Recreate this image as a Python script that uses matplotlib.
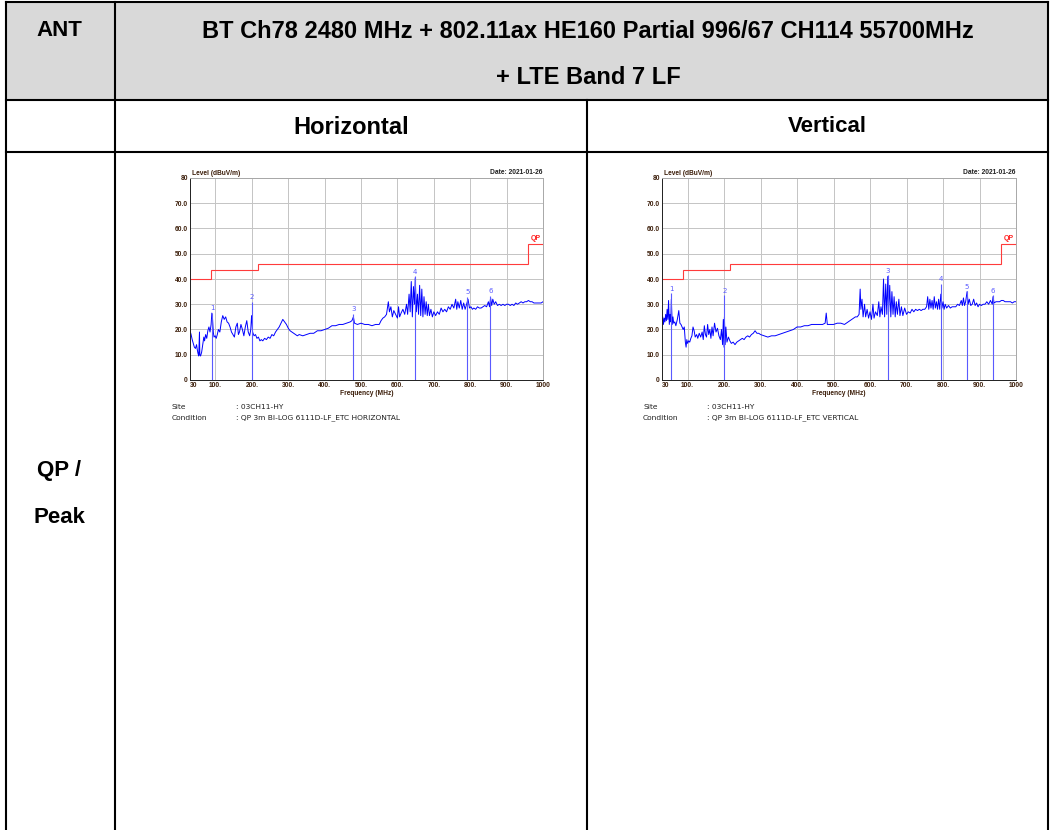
import matplotlib.pyplot as plt
from matplotlib.patches import Rectangle

# Radiated emission scans, 30 MHz - 1 GHz, level in dBuV/m
h_freq = [30, 33, 36, 39, 42, 45, 48, 50, 52, 54,
          56, 57, 59, 62, 65, 68, 70, 73, 76, 79,
          82, 85, 88, 90, 92, 94, 96, 99, 102, 105,
          108, 112, 116, 120, 124, 128, 132, 136, 140, 144,
          148, 152, 156, 160, 163, 166, 170, 174, 178, 182,
          186, 190, 194, 197, 199, 200, 202, 206, 210, 214,
          218, 222, 226, 230, 235, 240, 245, 250, 255, 260,
          265, 270, 275, 280, 285, 290, 295, 300, 305, 310,
          315, 320, 325, 330, 340, 350, 360, 370, 380, 390,
          400, 410, 420, 430, 440, 450, 460, 470, 475, 479,
          482, 490, 500, 510, 520, 530, 540, 550, 555, 560,
          565, 570, 575, 578, 582, 586, 590, 595, 600, 603,
          606, 610, 615, 620, 625, 628, 632, 635, 638, 641,
          644, 647, 649, 652, 655, 658, 661, 664, 667, 670,
          673, 676, 679, 682, 685, 688, 692, 696, 700, 705,
          710, 715, 720, 725, 730, 735, 740, 745, 750, 755,
          760, 763, 766, 770, 774, 778, 782, 786, 790, 794,
          798, 802, 806, 810, 815, 820, 825, 830, 835, 840,
          845, 850, 853, 856, 859, 862, 866, 870, 875, 880,
          885, 890, 895, 900, 905, 910, 915, 920, 925, 930,
          935, 940, 945, 950, 955, 960, 965, 970, 975, 980,
          985, 990, 995, 1000]
h_level = [19.5, 18, 16, 14.5, 13, 12.5, 14, 12, 10.5, 9.5,
           19, 10, 9.5, 11, 14, 17, 15.5, 18, 16.5, 19.5,
           21, 19, 22, 26.5, 24, 19, 17, 17.5, 16.5, 18,
           20, 19, 23, 25.5, 24, 25, 23, 22.5, 21, 19,
           18, 17, 21, 22.5, 18, 19, 22, 20, 17.5, 21,
           23.5, 19, 17.5, 20, 25, 25.5, 19, 17.5, 18, 16.5,
           17, 15.5, 16, 15.5, 16.5, 16, 17, 16.5, 18, 17.5,
           19, 20, 21, 22.5, 24, 23, 22, 20.5, 19.5, 19,
           18.5, 18, 17.5, 18, 17.5, 18, 18.5, 18.5, 19.5, 19.5,
           20, 20.5, 21.5, 21.5, 22, 22, 22.5, 23, 23.5, 25,
           22.5, 22, 22.5, 22, 22, 21.5, 22, 22, 23.5, 24.5,
           25, 26, 31, 27, 29, 25, 27.5, 26, 24.5, 29,
           25, 26.5, 28, 26, 30, 26, 34, 27, 39, 25,
           37, 30, 40.5, 27, 34, 26, 37.5, 25.5, 36, 25,
           33, 26, 31, 25.5, 30, 25.5, 28, 25, 27, 25.5,
           27, 26, 28.5, 27, 28, 27, 29, 28, 30, 28.5,
           32, 28, 31, 28.5, 31.5, 28, 30.5, 28, 30, 32,
           28.5, 29, 28, 28.5, 28, 29, 28.5, 28.5, 29, 29.5,
           29, 31, 29, 32.5, 29.5, 32, 30, 31, 29.5, 30,
           29.5, 30, 29.5, 30, 30, 29.5, 30, 29.5, 30.5, 30,
           30.5, 31, 30.5, 31, 31, 31.5, 31, 31, 30.5, 30.5,
           30.5, 30.5, 30.5, 31]
h_mk_freq = [91, 200, 479, 648.6, 792, 855.5]
h_mk_level = [26.6, 31.0, 26.3, 41.1, 32.9, 33.3]

v_freq = [30, 32, 34, 36, 38, 40, 42, 44, 46, 48,
          50, 52, 54, 55.6, 58, 60, 62, 65, 68, 72,
          76, 79, 82, 85, 88, 91, 94, 96, 98, 100,
          103, 106, 109, 112, 115, 118, 121, 125, 128, 132,
          136, 140, 143, 146, 149, 152, 155, 158, 161, 164,
          167, 170, 174, 178, 182, 186, 190, 193, 196, 198,
          200, 201, 203, 205, 208, 212, 216, 220, 225, 230,
          235, 240, 245, 250, 255, 260, 265, 270, 275, 280,
          285, 290, 295, 300, 310, 320, 330, 340, 350, 360,
          370, 380, 390, 400, 410, 420, 430, 440, 450, 460,
          470, 477, 480, 483, 490, 500, 510, 520, 530, 540,
          550, 555, 560, 565, 570, 573, 575, 578, 581, 585,
          588, 592, 596, 600, 604, 608, 611, 615, 620, 624,
          627, 630, 634, 637, 640, 643, 646, 648.6, 651, 654,
          657, 660, 663, 666, 669, 672, 675, 679, 682, 686,
          690, 695, 700, 705, 710, 715, 720, 725, 730, 735,
          740, 745, 750, 755, 758, 761, 764, 767, 770, 773,
          776, 779, 782, 785, 788, 791, 794, 797, 800, 803,
          806, 810, 815, 820, 825, 830, 835, 840, 845, 850,
          853, 856, 859, 862, 866, 869, 872, 876, 880, 884,
          888, 892, 896, 900, 905, 910, 915, 920, 925, 930,
          935, 937, 940, 945, 950, 955, 960, 965, 970, 975,
          980, 985, 990, 995, 1000]
v_level = [23.5, 25, 22, 24.5, 23, 26, 23.5, 28, 24, 31.5,
           22, 26, 23, 32, 22, 25, 22.5, 23, 21.5, 24,
           27.5, 22.5, 22, 21, 20, 21, 15, 13, 16, 14.5,
           15.5, 15, 16.5, 17.5, 21, 19.5, 17, 18, 16.5, 18.5,
           17, 19, 16, 21.5, 18, 17, 22, 18, 20, 16.5,
           21, 17.5, 22.5, 19, 20.5, 17.5, 16, 20, 14, 24,
           13, 25, 14, 21, 15, 17, 15.5, 14.5, 15, 14,
           15, 15.5, 16, 16.5, 16, 17, 17.5, 17, 18, 18.5,
           19.5, 18.5, 18.5, 18, 17.5, 17, 17.5, 17.5, 18, 18.5,
           19, 19.5, 20, 21, 21, 21.5, 21.5, 22, 22, 22,
           22, 22.5, 26.5, 22, 22, 22, 22.5, 22.5, 22, 23,
           24, 24.5, 25, 25, 26, 36, 28, 32, 25, 30,
           25, 28, 24.5, 27, 24, 30, 24.5, 27, 25.5, 31,
           25, 29, 26, 40, 25, 38, 26, 41, 27, 37.5,
           25, 35, 26, 33, 25, 31, 26, 32, 25.5, 29,
           25.5, 28.5, 26, 27, 26.5, 28, 27, 28, 27.5, 28,
           27.5, 28, 28, 29, 33, 28, 32, 28.5, 31.5, 28,
           33, 28.5, 31, 28, 32, 28, 34, 28.5, 31, 28,
           30, 28.5, 29.5, 28.5, 29, 29, 29, 30, 29.5, 31.5,
           29.5, 32.5, 29.5, 31, 35, 30, 32, 29.5, 30, 32,
           29.5, 30.5, 29, 30, 29.5, 30, 30, 31, 30, 31.5,
           30, 33, 30.5, 31, 31, 31, 31.5, 31.5, 31, 31,
           31, 31, 30.5, 31, 31]
v_mk_freq = [55.6, 201, 648.6, 794, 865.5, 936.8]
v_mk_level = [34.3, 33.6, 41.5, 38.2, 35.2, 33.6]

# QP limit (FCC class B, 3 m)
limit_edges = [30, 88, 216, 960, 1000]
limit_vals = [40, 43.5, 46, 54]

x_ticks = [30, 100, 200, 300, 400, 500, 600, 700, 800, 900, 1000]
x_labels = ["30", "100.", "200.", "300.", "400.", "500.", "600.", "700.", "800.", "900.", "1000"]
y_ticks = [0, 10, 20, 30, 40, 50, 60, 70, 80]
y_labels = ["0", "10.0", "20.0", "30.0", "40.0", "50.0", "60.0", "70.0", "80"]

title1 = "BT Ch78 2480 MHz + 802.11ax HE160 Partial 996/67 CH114 55700MHz"
title2 = "+ LTE Band 7 LF"

BROWN = "#3c1e0a"
W, H = 1051, 830


def draw_scan(ax, freq, level, mk_freq, mk_level):
    ax.set_xlim(30, 1000)
    ax.set_ylim(0, 80)
    ax.grid(True, color="#c4c4c4", lw=0.7)
    ax.set_axisbelow(True)
    ax.stairs(limit_vals, limit_edges, baseline=None, color="#ff3b3b", lw=0.8)
    ax.text(980, 54.6, "QP", color="#ff2020", fontsize=5, fontweight="bold",
            ha="center", va="bottom", family="Liberation Sans")
    ax.plot(freq, level, color="#0000ff", lw=0.7)
    for i in range(len(mk_freq)):
        ax.vlines(mk_freq[i], 0, mk_level[i], color="#5a5aff", lw=0.8)
        ax.text(mk_freq[i], mk_level[i] + 0.6, str(i + 1), color="#5a5aff",
                fontsize=5, ha="center", va="bottom")
    ax.set_xticks(x_ticks)
    ax.set_xticklabels(x_labels)
    ax.set_yticks(y_ticks)
    ax.set_yticklabels(y_labels)
    ax.tick_params(length=0, pad=1.5, labelsize=4.8, labelcolor=BROWN)
    for lab in ax.get_xticklabels() + ax.get_yticklabels():
        lab.set_fontweight("bold")
        lab.set_family("Liberation Sans")
    ax.get_xticklabels()[0].set_ha("left")
    ax.set_xlabel("Frequency (MHz)", fontsize=4.8, fontweight="bold", color=BROWN,
                  labelpad=0.5, family="Liberation Sans")
    ax.text(0.005, 1.005, "Level (dBuV/m)", transform=ax.transAxes, fontsize=4.8,
            fontweight="bold", color=BROWN, ha="left", va="bottom", family="Liberation Sans")
    ax.text(1.0, 1.01, "Date: 2021-01-26", transform=ax.transAxes, fontsize=4.8,
            fontweight="bold", color="#202020", ha="right", va="bottom", family="Liberation Sans")
    ax.spines["left"].set_color("#202020")
    ax.spines["bottom"].set_color("#202020")
    ax.spines["top"].set_color("#a8a8a8")
    ax.spines["right"].set_color("#a8a8a8")
    for s in ax.spines.values():
        s.set_linewidth(0.7)


fig = plt.figure(figsize=(W / 100, H / 100), dpi=100)

# table background in pixel coordinates
bg = fig.add_axes([0, 0, 1, 1])
bg.set_xlim(0, W)
bg.set_ylim(H, 0)
bg.axis("off")
bg.add_patch(Rectangle((6, 2), 1042, 98, facecolor="#d9d9d9", edgecolor="none"))
lw = 1.5
bg.plot([6, 1048], [2, 2], color="black", lw=lw)
bg.plot([6, 1048], [100.5, 100.5], color="black", lw=lw)
bg.plot([6, 1048], [152, 152], color="black", lw=lw)
bg.plot([6, 6], [2, H], color="black", lw=lw)
bg.plot([114.5, 114.5], [2, H], color="black", lw=lw)
bg.plot([1048, 1048], [2, H], color="black", lw=lw)
bg.plot([587, 587], [100.5, H], color="black", lw=lw)

hfont = dict(family="Liberation Sans", fontweight="bold", ha="center", va="center", fontsize=16)
bg.text(59, 31, "ANT", **hfont)
bg.text(588, 31, title1, **dict(hfont, fontsize=17))
bg.text(588, 77, title2, **dict(hfont, fontsize=17))
bg.text(351, 127, "Horizontal", **dict(hfont, fontsize=17))
bg.text(827, 127, "Vertical", **hfont)
bg.text(59, 470, "QP /", **hfont)
bg.text(59, 517, "Peak", **hfont)

sfont = dict(fontsize=5.4, color="#202020", va="center", ha="left")
for x0, pol in [(172, "HORIZONTAL"), (643, "VERTICAL")]:
    bg.text(x0, 407, "Site", **sfont)
    bg.text(x0 + 64, 407, ": 03CH11-HY", **sfont)
    bg.text(x0, 418, "Condition", **sfont)
    bg.text(x0 + 64, 418, ": QP 3m BI-LOG 6111D-LF_ETC " + pol, **sfont)

ax_h = fig.add_axes([190 / W, 1 - 380 / H, 353 / W, 202 / H])
draw_scan(ax_h, h_freq, h_level, h_mk_freq, h_mk_level)
ax_v = fig.add_axes([662 / W, 1 - 380 / H, 354 / W, 202 / H])
draw_scan(ax_v, v_freq, v_level, v_mk_freq, v_mk_level)

fig.savefig("out.png", dpi=100)
